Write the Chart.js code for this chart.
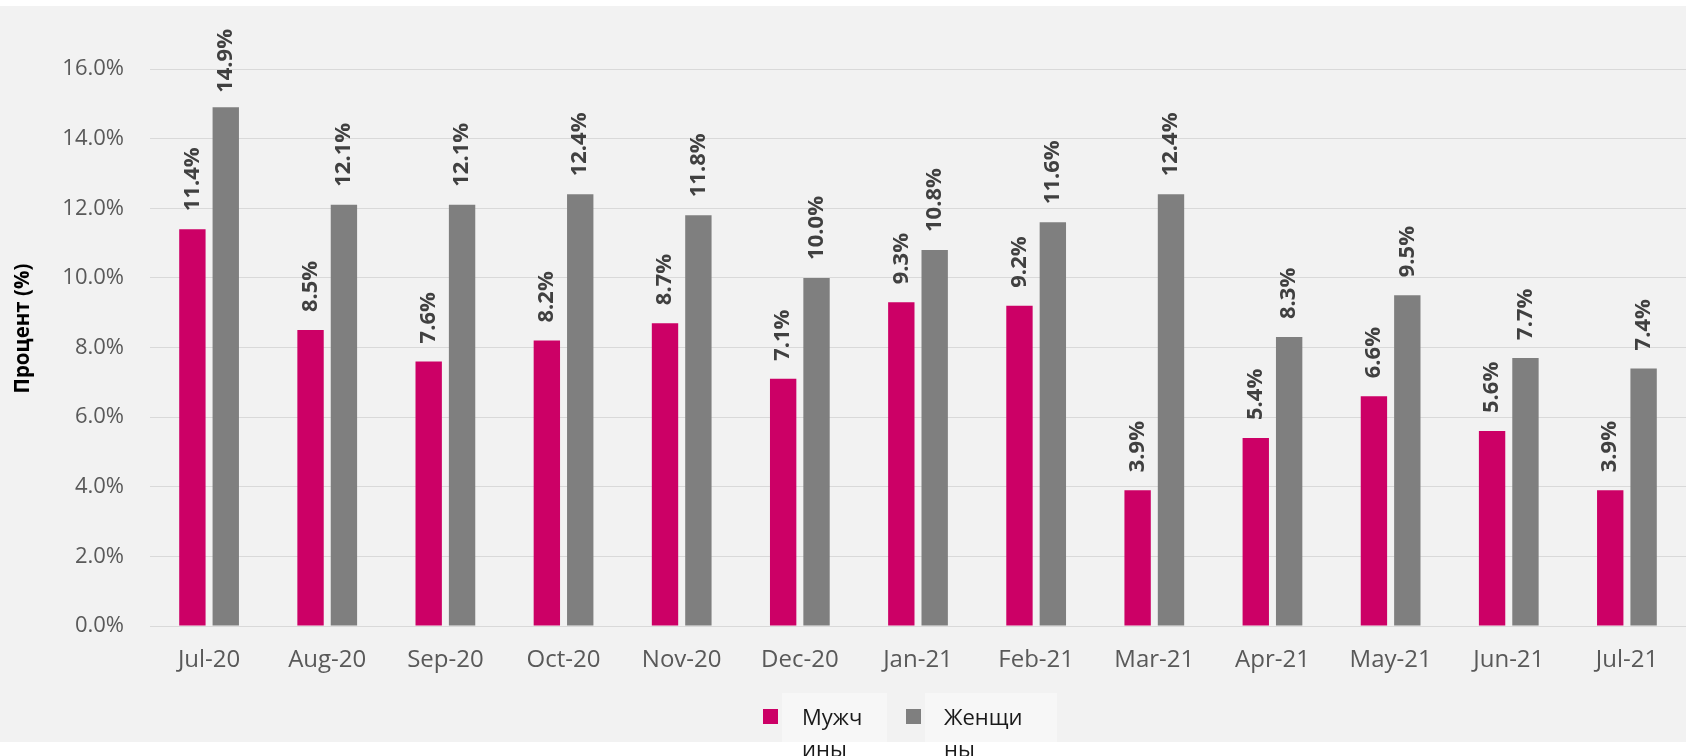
<!DOCTYPE html>
<html>
<head>
<meta charset="utf-8">
<script src="https://cdn.jsdelivr.net/npm/chart.js@4.4.1/dist/chart.umd.min.js"></script>
<style>
    html, body { margin: 0; padding: 0; background: #ffffff; overflow: hidden; }
    body { width: 1686px; height: 756px; position: relative; font-family: 'Open Sans', sans-serif; }
    .chart-wrap { position: absolute; left: 0; top: 6px; width: 1686px; height: 736px; background: #f2f2f2; }
    .legend { position: absolute; top: 693px; left: 763px; height: 63px; display: flex; }
    .legend-item { display: flex; align-items: flex-start; }
    .legend-box { width: 15px; height: 15px; margin-top: 16px; margin-right: 4px; }
    .legend-text {
        background: #f7f7f7; height: 49px; padding-top: 7px; box-sizing: border-box;
        font-size: 22px; line-height: 32px; color: #1a1a1a; word-break: break-all; overflow: visible;
    }
</style>
</head>
<body>
<div class="chart-wrap">
    <canvas id="genderChart" width="1686" height="736"></canvas>
</div>
<div class="legend" id="legend"></div>

<script>
// Chart data
const months = ['Jul-20', 'Aug-20', 'Sep-20', 'Oct-20', 'Nov-20', 'Dec-20', 'Jan-21',
    'Feb-21', 'Mar-21', 'Apr-21', 'May-21', 'Jun-21', 'Jul-21'];
const menValues = [11.4, 8.5, 7.6, 8.2, 8.7, 7.1, 9.3, 9.2, 3.9, 5.4, 6.6, 5.6, 3.9];
const womenValues = [14.9, 12.1, 12.1, 12.4, 11.8, 10.0, 10.8, 11.6, 12.4, 8.3, 9.5, 7.7, 7.4];
const seriesNames = ['Мужчины', 'Женщины'];
const yTicks = [0, 2, 4, 6, 8, 10, 12, 14, 16];
const yTitle = 'Процент (%)';

const fontFamily = "'Open Sans', sans-serif";
const seriesColors = ['#cc0066', '#7f7f7f'];

// Rotated value labels above each bar
const barLabels = {
    id: 'barLabels',
    afterDatasetsDraw(chart) {
        const ctx = chart.ctx;
        ctx.save();
        ctx.font = 'bold 22px ' + fontFamily;
        ctx.fillStyle = '#404040';
        ctx.textAlign = 'left';
        ctx.textBaseline = 'middle';
        chart.data.datasets.forEach((ds, i) => {
            chart.getDatasetMeta(i).data.forEach((bar, j) => {
                const text = ds.data[j].toFixed(1) + '%';
                const w = ctx.measureText(text).width;
                let start = bar.y - 18;
                // keep the tallest label inside the chart
                if (start - w < 23) start = 23 + w;
                ctx.save();
                ctx.translate(bar.x, start);
                ctx.rotate(-Math.PI / 2);
                ctx.fillText(text, 0, 0);
                ctx.restore();
            });
        });
        ctx.restore();
    }
};

// Y axis title, sitting a little above the middle of the plot like the original
const axisTitle = {
    id: 'axisTitle',
    afterDraw(chart) {
        const ctx = chart.ctx;
        const area = chart.chartArea;
        ctx.save();
        ctx.font = 'bold 20.5px ' + fontFamily;
        ctx.fillStyle = '#000000';
        ctx.textAlign = 'center';
        ctx.textBaseline = 'middle';
        ctx.translate(23, (area.top + area.bottom) / 2 - 19);
        ctx.rotate(-Math.PI / 2);
        ctx.fillText(yTitle, 0, 0);
        ctx.restore();
    }
};

const ctx = document.getElementById('genderChart');
const chart = new Chart(ctx, {
    type: 'bar',
    data: {
        labels: months,
        datasets: [
            { label: seriesNames[0], data: menValues, backgroundColor: seriesColors[0] },
            { label: seriesNames[1], data: womenValues, backgroundColor: seriesColors[1] }
        ]
    },
    options: {
        responsive: false,
        animation: false,
        categoryPercentage: 0.565,
        barPercentage: 0.79,
        layout: { padding: { top: 63, left: 0, right: 0, bottom: 0 } },
        plugins: {
            legend: { display: false },
            tooltip: { enabled: false }
        },
        scales: {
            x: {
                grid: { display: false, drawTicks: false },
                border: { display: false },
                ticks: {
                    color: '#595959',
                    padding: 20,
                    maxRotation: 0,
                    font: { family: fontFamily, size: 24 }
                },
                afterFit(scale) { scale.height = 116; }
            },
            y: {
                min: 0,
                max: 16,
                afterBuildTicks(scale) {
                    scale.ticks = yTicks.map(v => ({ value: v }));
                },
                grid: { color: '#d9d9d9', lineWidth: 1, drawTicks: false },
                border: { display: false },
                ticks: {
                    color: '#595959',
                    padding: 26,
                    font: { family: fontFamily, size: 22 },
                    callback: v => v.toFixed(1) + '%'
                },
                afterFit(scale) { scale.width = 150; }
            }
        }
    },
    plugins: [barLabels, axisTitle]
});

// HTML legend (narrow text boxes wrap the names like the original)
const legendEl = document.getElementById('legend');
const boxWidths = [105, 132];
const padLeft = [20, 19];
const padRight = [15, 26];
const gaps = [19, 0];
seriesNames.forEach((name, i) => {
    const item = document.createElement('div');
    item.className = 'legend-item';
    item.style.marginRight = gaps[i] + 'px';
    const box = document.createElement('div');
    box.className = 'legend-box';
    box.style.background = seriesColors[i];
    const text = document.createElement('div');
    text.className = 'legend-text';
    text.style.width = boxWidths[i] + 'px';
    text.style.paddingLeft = padLeft[i] + 'px';
    text.style.paddingRight = padRight[i] + 'px';
    text.textContent = name;
    item.appendChild(box);
    item.appendChild(text);
    legendEl.appendChild(item);
});
</script>
</body>
</html>
